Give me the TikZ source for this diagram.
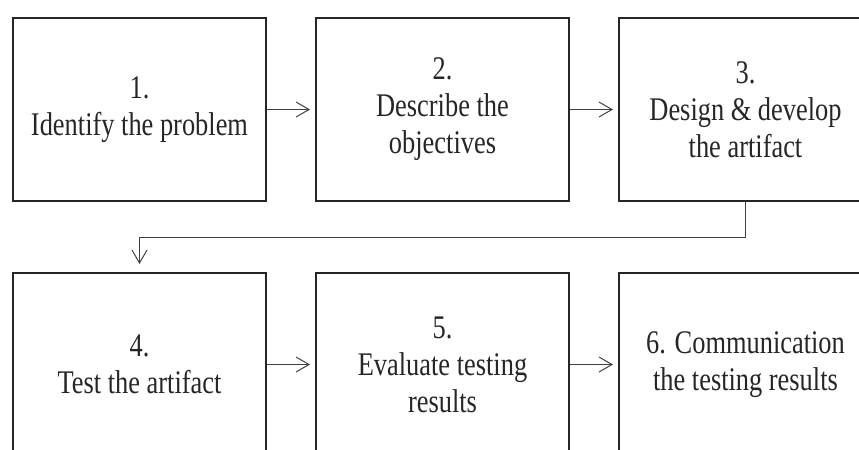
\documentclass[tikz,border=0pt]{standalone}
\usepackage{fontspec}
\setmainfont[FakeStretch=0.8]{Liberation Serif}
\usetikzlibrary{positioning,arrows.meta}

\begin{document}
\begin{tikzpicture}[node distance=35pt and 24pt,
	stepbox/.style = {shape=rectangle, draw=black!85, line width=1pt,
		minimum width=126.5pt, minimum height=91.5pt, align=center,
		text=black!85, font=\fontsize{16.5}{18.5}\selectfont},
	arr/.style = {-{Straight Barb[length=6.5pt,width=7.5pt]},
		draw=black!75, line width=0.5pt, shorten >=2.5pt}]
	\useasboundingbox (0,0) rectangle (429.5pt,-225pt);
	\clip (0,0) rectangle (429.5pt,-225pt);
	\node[stepbox] (s1) at (69.75pt,-54.75pt) {1.\\Identify the problem};
	\node[stepbox, right=of s1] (s2) {2.\\Describe the\\objectives};
	\node[stepbox, right=of s2] (s3) {3.\\Design \& develop\\the artifact};
	\node[stepbox, below=of s1] (s4) {4.\\Test the artifact};
	\node[stepbox, right=of s4] (s5) {5.\\Evaluate testing\\results};
	\node[stepbox, right=of s5] (s6) {6. Communication\\the testing results};
	\draw[arr] (s1) -- (s2);
	\draw[arr] (s2) -- (s3);
	\draw[arr, shorten >=4pt] (s3.south) -- ++(0,-17.5pt) -| (s4.north);
	\draw[arr] (s4) -- (s5);
	\draw[arr] (s5) -- (s6);
\end{tikzpicture}
\end{document}
